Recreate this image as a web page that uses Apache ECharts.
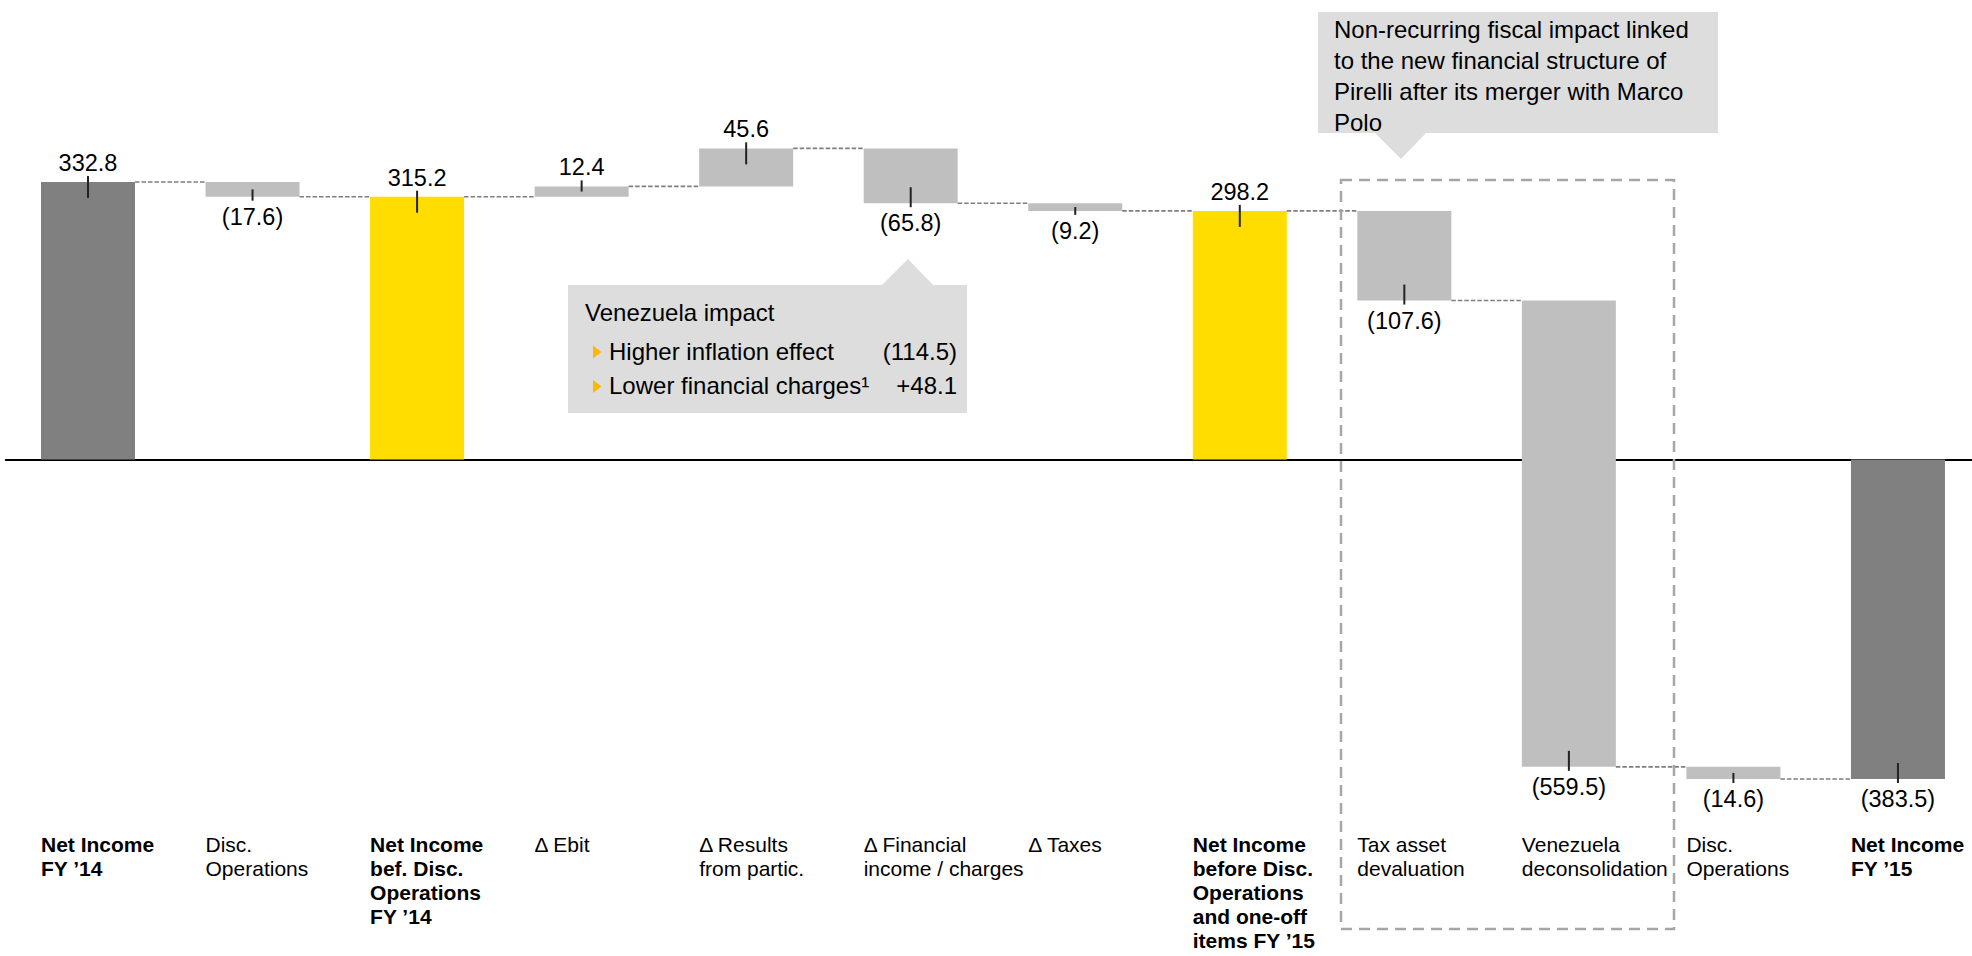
<!DOCTYPE html>
<html>
<head>
<meta charset="utf-8">
<title>Net Income bridge FY '14 – FY '15</title>
<script src="https://cdn.jsdelivr.net/npm/echarts@6/dist/echarts.min.js"></script>
<style>
  html, body { margin: 0; padding: 0; background: #fff; }
  #chart { width: 1972px; height: 956px; }
</style>
</head>
<body>
<div id="chart"></div>
<script>
// Bridge steps, left to right (values in € mln)
const categories = [
  'Net Income\nFY ’14',
  'Disc.\nOperations',
  'Net Income\nbef. Disc.\nOperations\nFY ’14',
  'Δ Ebit',
  'Δ Results\nfrom partic.',
  'Δ Financial\nincome / charges',
  'Δ Taxes',
  'Net Income\nbefore Disc.\nOperations\nand one-off\nitems FY ’15',
  'Tax asset\ndevaluation',
  'Venezuela\ndeconsolidation',
  'Disc.\nOperations',
  'Net Income\nFY ’15'
];
const values = [332.8, -17.6, 315.2, 12.4, 45.6, -65.8, -9.2, 298.2, -107.6, -559.5, -14.6, -383.5];
// 'total' = start/end result, 'subtotal' = intermediate result, 'step' = change
const barKinds = ['total', 'step', 'subtotal', 'step', 'step', 'step', 'step', 'subtotal', 'step', 'step', 'step', 'total'];

// Call-out texts
const venezuelaTitle = 'Venezuela impact';
const venezuelaItems = ['Higher inflation effect', 'Lower financial charges¹'];
const venezuelaAmounts = ['(114.5)', '+48.1'];
const fiscalNote = 'Non-recurring fiscal impact linked\nto the new financial structure of\nPirelli after its merger with Marco\nPolo';

const FONT = '"Liberation Sans", Arial, Helvetica, sans-serif';
const kindColor = { total: '#808080', subtotal: '#FFDD00', step: '#BFBFBF' };

// Build floating segments: [index, low, high, level after this step]
const segments = [];
let running = 0;
values.forEach((v, i) => {
  let start, end;
  if (barKinds[i] === 'step') { start = running; end = running + v; }
  else { start = 0; end = v; }
  running = end;
  segments.push([i, Math.min(start, end), Math.max(start, end), end]);
});

function fmt(v) {
  return v < 0 ? '(' + Math.abs(v).toFixed(1) + ')' : v.toFixed(1);
}

function renderItem(params, api) {
  const idx = params.dataIndex;
  const i = api.value(0);
  const lo = api.value(1);
  const hi = api.value(2);
  const level = api.value(3);
  const v = values[idx];
  const kind = barKinds[idx];
  const band = api.size([1, 0])[0];
  const bw = band * 0.5713;
  const cx = api.coord([i, hi])[0];
  const yHi = api.coord([i, hi])[1];
  const yLo = api.coord([i, lo])[1];
  const h = yLo - yHi;
  const inner = Math.min(16, h / 2);
  const children = [];

  // bar
  children.push({
    type: 'rect',
    shape: { x: cx - bw / 2, y: yHi, width: bw, height: h },
    style: { fill: kindColor[kind] }
  });

  // value label with its leader tick
  if (v >= 0) {
    children.push({
      type: 'line',
      shape: { x1: cx, y1: yHi - 6, x2: cx, y2: yHi + inner },
      style: { stroke: '#222', lineWidth: 2 }
    });
    children.push({
      type: 'text',
      style: { text: fmt(v), x: cx, y: yHi - 19, align: 'center', verticalAlign: 'middle',
               font: '23.5px ' + FONT, fill: '#000' }
    });
  } else {
    children.push({
      type: 'line',
      shape: { x1: cx, y1: yLo + 4, x2: cx, y2: yLo - inner },
      style: { stroke: '#222', lineWidth: 2 }
    });
    children.push({
      type: 'text',
      style: { text: fmt(v), x: cx, y: yLo + 20, align: 'center', verticalAlign: 'middle',
               font: '23.5px ' + FONT, fill: '#000' }
    });
  }

  // dashed connector to the next bar
  if (idx < values.length - 1) {
    const yl = api.coord([i, level])[1];
    children.push({
      type: 'line',
      shape: { x1: cx + bw / 2, y1: yl, x2: cx + band - bw / 2, y2: yl },
      style: { stroke: '#7F7F7F', lineWidth: 1.6, lineDash: [4.5, 2] }
    });
  }

  // category label under the chart, left aligned with the bar
  children.push({
    type: 'text',
    style: {
      text: categories[idx], x: cx - bw / 2, y: 832.6, align: 'left', verticalAlign: 'top',
      font: (kind === 'step' ? '' : 'bold ') + '21px ' + FONT, lineHeight: 24, fill: '#000'
    }
  });

  return { type: 'group', children: children };
}

const chart = echarts.init(document.getElementById('chart'), null, { renderer: 'svg' });

const bulletY = [352, 386.5];
const graphic = [
  // dashed frame around the one-off items
  {
    type: 'rect', z: 10,
    shape: { x: 1341, y: 180, width: 333, height: 749 },
    style: { fill: 'none', stroke: '#A6A6A6', lineWidth: 2.5, lineDash: [11, 7] }
  },
  // fiscal impact call-out
  {
    type: 'polygon', z: 10,
    shape: { points: [[1318, 12], [1718, 12], [1718, 133], [1426, 133], [1401, 159], [1375, 133], [1318, 133]] },
    style: { fill: '#DDDDDD' }
  },
  {
    type: 'text', z: 11,
    style: { text: fiscalNote, x: 1334, y: 14.2, align: 'left', verticalAlign: 'top',
             font: '24px ' + FONT, lineHeight: 31, fill: '#000' }
  },
  // Venezuela call-out
  {
    type: 'polygon', z: 10,
    shape: { points: [[568, 285], [882, 285], [908, 259], [933, 285], [967, 285], [967, 413], [568, 413]] },
    style: { fill: '#DDDDDD' }
  },
  {
    type: 'text', z: 11,
    style: { text: venezuelaTitle, x: 585, y: 312, align: 'left', verticalAlign: 'middle',
             font: '24px ' + FONT, fill: '#000' }
  }
];
venezuelaItems.forEach((t, k) => {
  const y = bulletY[k];
  graphic.push({
    type: 'polygon', z: 11,
    shape: { points: [[593, y - 6.5], [601.5, y], [593, y + 6.5]] },
    style: { fill: '#FFB800' }
  });
  graphic.push({
    type: 'text', z: 11,
    style: { text: t, x: 609, y: y - 1, align: 'left', verticalAlign: 'middle',
             font: '24px ' + FONT, fill: '#000' }
  });
  graphic.push({
    type: 'text', z: 11,
    style: { text: venezuelaAmounts[k], x: 957, y: y - 1, align: 'right', verticalAlign: 'middle',
             font: '24px ' + FONT, fill: '#000' }
  });
});

chart.setOption({
  animation: false,
  backgroundColor: '#fff',
  grid: { left: 5.73, top: 42.7, width: 1974.5, height: 833.4, outerBoundsMode: 'none' },
  xAxis: {
    type: 'category',
    data: categories,
    axisLine: { onZero: true, lineStyle: { color: '#000', width: 2 } },
    axisTick: { show: false },
    axisLabel: { show: false },
    splitLine: { show: false }
  },
  yAxis: {
    type: 'value',
    min: -500,
    max: 500,
    show: false,
    splitLine: { show: false }
  },
  series: [{
    type: 'custom',
    clip: false,
    renderItem: renderItem,
    encode: { x: 0, y: [1, 2] },
    data: segments
  }],
  graphic: graphic
});
</script>
</body>
</html>
